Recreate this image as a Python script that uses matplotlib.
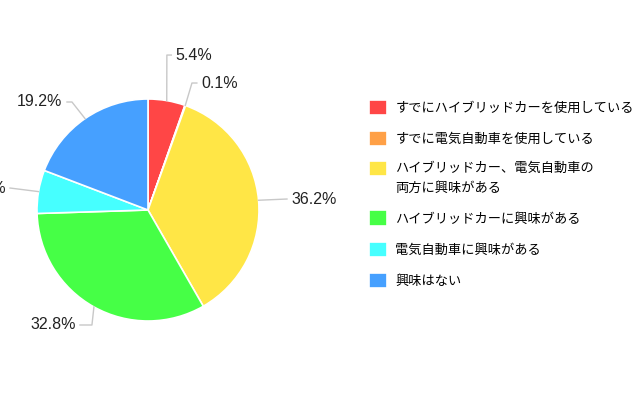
import numpy as np
import matplotlib.pyplot as plt

plt.rcParams['font.family'] = ['Noto Sans CJK JP', 'DejaVu Sans']

labels = ['すでにハイブリッドカーを使用している',
          'すでに電気自動車を使用している',
          'ハイブリッドカー、電気自動車の\n両方に興味がある',
          'ハイブリッドカーに興味がある',
          '電気自動車に興味がある',
          '興味はない']
values = [5.4, 0.1, 36.2, 32.8, 6.3, 19.2]
colors = ['#ff4646', '#ffa046', '#ffe646', '#46ff46', '#46ffff', '#46a0ff']

# leader line elbows / ends (radius units), text alignment
elbows = [(0.17, 1.396), (0.396, 1.144), (1.252, 0.099),
          (-0.505, -1.036), (-1.243, 0.198), (-0.685, 0.973)]
ends = [(0.21, 1.396), (0.44, 1.144), (1.252, 0.099),
        (-0.613, -1.036), (-1.243, 0.198), (-0.73, 0.973)]
aligns = ['left', 'left', 'left', 'right', 'right', 'right']

fig = plt.figure(figsize=(6.4, 4), dpi=100)
ax = fig.add_axes([37 / 640, 79 / 400, 222 / 640, 222 / 400])

wedges, _ = ax.pie(values, colors=colors, startangle=90, counterclock=False,
                   wedgeprops=dict(edgecolor='white', linewidth=1.2))
ax.set_xlim(-1, 1)
ax.set_ylim(-1, 1)
ax.set_aspect('equal')
ax.axis('off')

cum = np.cumsum([0] + values[:-1])
for i, v in enumerate(values):
    ang = np.deg2rad(90 - (cum[i] + v / 2) * 3.6)
    x0, y0 = np.cos(ang), np.sin(ang)
    ex, ey = elbows[i]
    nx, ny = ends[i]
    ax.plot([x0, ex, nx], [y0, ey, ny], color='#c8c8c8', lw=1, clip_on=False)
    dx = 0.04 if aligns[i] == 'left' else -0.04
    ax.text(nx + dx, ny, f'{v:.1f}%', ha=aligns[i], va='center', fontsize=11.5,
            family='Liberation Sans', color='#222222', clip_on=False)

leg = fig.legend(wedges, labels, loc='upper left', bbox_to_anchor=(369 / 640, 1 - 100 / 400),
                 frameon=False, fontsize=9.5, handlelength=1.4, handleheight=1.4,
                 handletextpad=0.6, labelspacing=1.2, borderaxespad=0, borderpad=0)
for t in leg.get_texts():
    t.set_linespacing(1.65)
# keep the square of the two-line entry next to its first line
h = leg.legend_handles[2]
h.set_y(h.get_y() + 7.8)

fig.savefig('out.png', dpi=100, facecolor='white')
